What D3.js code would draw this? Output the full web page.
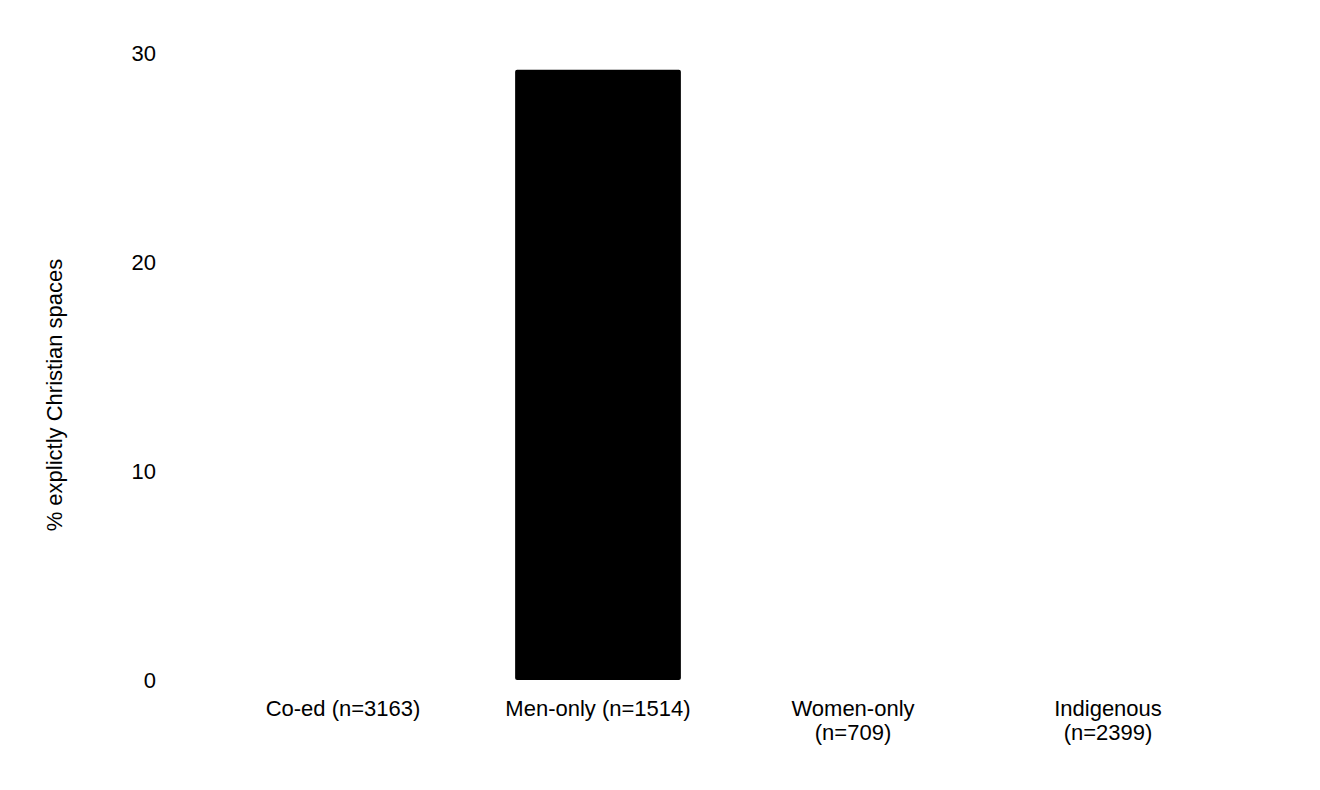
<!DOCTYPE html>
<html>
<head>
<meta charset="utf-8">
<script src="https://cdn.jsdelivr.net/npm/d3@7"></script>
<style>
  body { margin: 0; background: #fff; }
  text { font-family: "Liberation Sans", Arial, sans-serif; fill: #000; }
</style>
</head>
<body>
<script>
// chart data
var categories = ["Co-ed (n=3163)", "Men-only (n=1514)", "Women-only (n=709)", "Indigenous (n=2399)"];
var labelLines = [["Co-ed (n=3163)"], ["Men-only (n=1514)"], ["Women-only", "(n=709)"], ["Indigenous", "(n=2399)"]];
var values = [0, 29.2, 0, 0];
var yTicks = [0, 10, 20, 30];

var width = 1320, height = 790;

var svg = d3.select("body").append("svg")
    .attr("width", width)
    .attr("height", height);

var x = d3.scaleBand()
    .domain(categories)
    .range([215.5, 1235.5])
    .paddingInner(0.35)
    .paddingOuter(0.175);

var y = d3.scaleLinear()
    .domain([0, 30])
    .range([680, 53]);

// bars
svg.selectAll(".bar")
    .data(values)
    .enter()
    .append("rect")
    .attr("class", "bar")
    .attr("x", function(d, i){ return x(categories[i]); })
    .attr("y", function(d){ return y(d); })
    .attr("width", x.bandwidth())
    .attr("height", function(d){ return y(0) - y(d); })
    .attr("rx", 2)
    .attr("fill", "#000");

// y tick labels, no axis line
svg.selectAll(".ytick")
    .data(yTicks)
    .enter()
    .append("text")
    .attr("x", 156)
    .attr("y", function(d){ return y(d); })
    .attr("dy", "0.35em")
    .attr("text-anchor", "end")
    .style("font-size", "22px")
    .text(function(d){ return d; });

// x labels
var xl = svg.selectAll(".xlab")
    .data(labelLines)
    .enter()
    .append("text")
    .attr("text-anchor", "middle")
    .attr("transform", function(d, i){ return "translate(" + (x(categories[i]) + x.bandwidth() / 2) + ",716)"; })
    .style("font-size", "22px");
xl.selectAll("tspan")
    .data(function(d){ return d; })
    .enter()
    .append("tspan")
    .attr("x", 0)
    .attr("dy", function(d, i){ return i === 0 ? 0 : 24; })
    .text(function(d){ return d; });

// y title
svg.append("text")
    .attr("transform", "translate(62,395) rotate(-90)")
    .attr("text-anchor", "middle")
    .style("font-size", "22px")
    .text("% explictly Christian spaces");
</script>
</body>
</html>
